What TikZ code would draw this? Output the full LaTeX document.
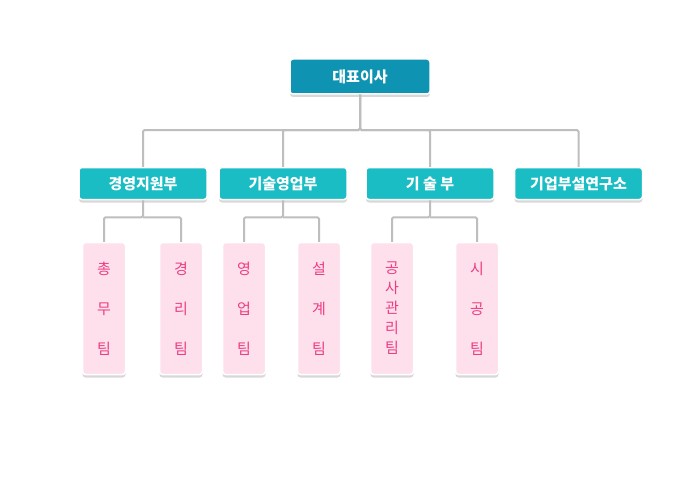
\documentclass[tikz,border=0pt]{standalone}
\usepackage{fontspec}
\setmainfont{Noto Sans CJK KR}
\usetikzlibrary{shadows}
\definecolor{ceoblue}{RGB}{14,148,178}
\definecolor{deptteal}{RGB}{27,189,196}
\definecolor{teampink}{RGB}{253,224,236}
\definecolor{teamtext}{RGB}{238,60,130}
\definecolor{linegray}{RGB}{190,190,190}
\tikzset{
  box/.style={rounded corners=3pt, draw=white, line width=1.5pt,
    drop shadow={shadow xshift=0pt, shadow yshift=-3pt, opacity=.3}},
  ceo/.style={box, fill=ceoblue, text=white, minimum width=140pt, minimum height=35pt,
    font=\fontsize{15}{17}\selectfont\bfseries},
  dept/.style={box, fill=deptteal, text=white, minimum width=128pt, minimum height=32pt,
    font=\fontsize{15}{17}\selectfont\bfseries},
  team/.style={box, fill=teampink, text=teamtext, minimum width=43pt, minimum height=132pt,
    align=center, font=\fontsize{15}{20}\selectfont},
  conn/.style={draw=linegray, line width=2pt, rounded corners=1.5pt}
}
\begin{document}
\begin{tikzpicture}[x=1pt, y=-1pt]
  \useasboundingbox[fill=white] (0,0) rectangle (700,476);

  \node[ceo] (ceo) at (360,76.5) {대표이사};

  \node[dept] (mgmt) at (143,183.5) {경영지원부};
  \node[dept] (sales) at (283,183.5) {기술영업부};
  \node[dept] (tech) at (430,183.5) {기 술 부};
  \node[dept] (lab) at (578.5,183.5) {기업부설연구소};

  \node[team] (general) at (104,308.5) {총\\[20pt]무\\[20pt]팀};
  \node[team] (account) at (181,308.5) {경\\[20pt]리\\[20pt]팀};
  \node[team] (biz) at (244,308.5) {영\\[20pt]업\\[20pt]팀};
  \node[team] (design) at (319,308.5) {설\\[20pt]계\\[20pt]팀};
  \node[team] (site) at (392,308.5) {공\\사\\관\\리\\팀};
  \node[team] (build) at (477,308.5) {시\\[20pt]공\\[20pt]팀};

  \coordinate (bus) at (360,130);
  \foreach \d in {mgmt,sales,tech,lab}
    \draw[conn] (ceo.south) -- (bus) -| (\d.north);

  \foreach \d/\a/\b in {mgmt/general/account, sales/biz/design, tech/site/build}{
    \draw[conn] (\d.south) -- ++(0,17) coordinate (\d-bus) -| (\a.north);
    \draw[conn] (\d-bus) -| (\b.north);
  }
\end{tikzpicture}
\end{document}
